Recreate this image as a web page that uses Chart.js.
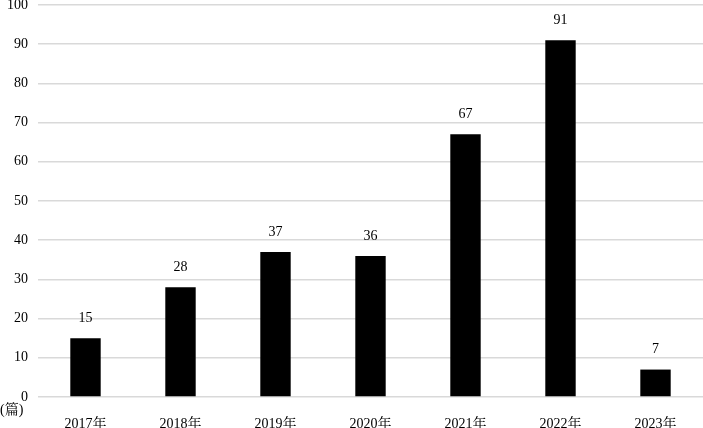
<!DOCTYPE html>
<html lang="zh-CN">
<head>
<meta charset="UTF-8">
<title>年度发文量</title>
<script src="https://cdn.jsdelivr.net/npm/chart.js"></script>
<style>
    html, body { margin: 0; padding: 0; background: #fff; }
    #wrap { width: 703px; height: 428px; }
</style>
</head>
<body>
<div id="wrap"><canvas id="barChart"></canvas></div>
<script>
    const years = ['2017年', '2018年', '2019年', '2020年', '2021年', '2022年', '2023年'];
    const counts = [15, 28, 37, 36, 67, 91, 7];
    const unitLabel = '(篇)';

    const fontFam = "'Liberation Serif', 'Times New Roman', 'Noto Serif CJK SC', serif";

    // 柱顶数值 + 左下角单位
    const labelPlugin = {
        id: 'labels',
        afterDatasetsDraw(chart) {
            const ctx = chart.ctx;
            ctx.save();
            ctx.fillStyle = '#000';
            ctx.font = '14px ' + fontFam;
            ctx.textAlign = 'center';
            ctx.textBaseline = 'middle';
            chart.getDatasetMeta(0).data.forEach((bar, i) => {
                ctx.fillText(counts[i], bar.x, bar.y - 20);
            });
            ctx.textAlign = 'left';
            ctx.fillText(unitLabel, 0, 410);
            ctx.restore();
        }
    };

    new Chart(document.getElementById('barChart'), {
        type: 'bar',
        data: {
            labels: years,
            datasets: [{
                data: counts,
                backgroundColor: '#000',
                barPercentage: 0.32,
                categoryPercentage: 1
            }]
        },
        options: {
            responsive: true,
            maintainAspectRatio: false,
            animation: false,
            layout: { padding: { top: 5, right: 0, left: 0, bottom: 0 } },
            plugins: { legend: { display: false }, tooltip: { enabled: false } },
            scales: {
                x: {
                    grid: { display: false },
                    border: { display: false },
                    ticks: { color: '#000', font: { family: fontFam, size: 14 }, padding: 11 },
                    afterFit(s) { s.height = 31; s.paddingLeft = 0; s.paddingRight = 0; }
                },
                y: {
                    min: 0,
                    max: 100,
                    ticks: { stepSize: 10, color: '#000', font: { family: fontFam, size: 14 }, padding: 10 },
                    grid: { color: '#d9d9d9', lineWidth: 1.5, drawTicks: false },
                    border: { display: false },
                    afterFit(s) { s.width = 38; s.paddingTop = 0; s.paddingBottom = 0; }
                }
            }
        },
        plugins: [labelPlugin]
    });
</script>
</body>
</html>
